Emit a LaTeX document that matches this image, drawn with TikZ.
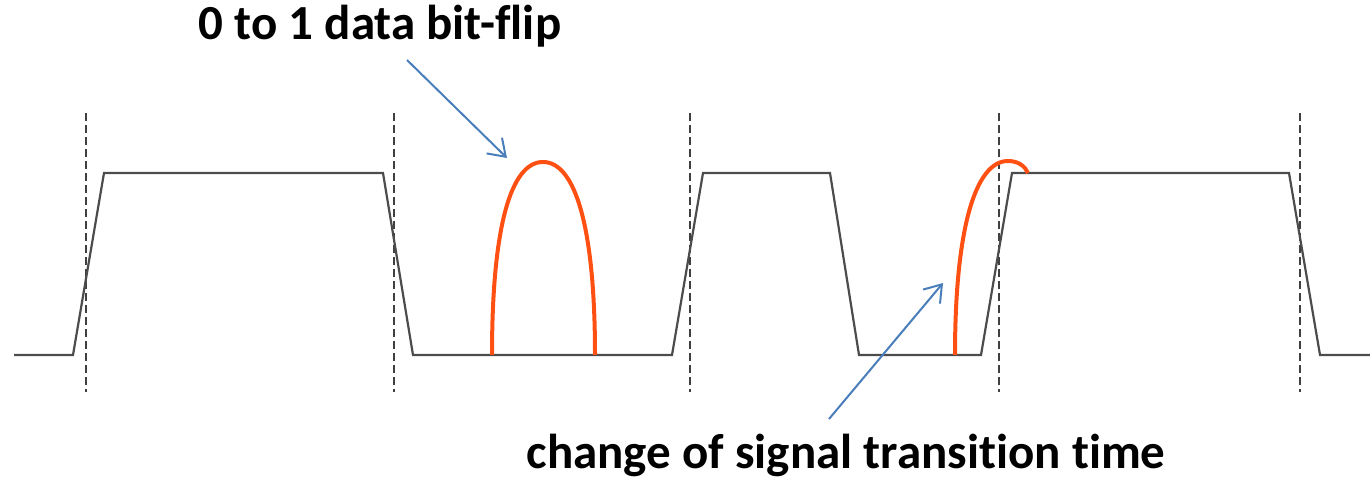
\documentclass[tikz,border=0pt]{standalone}
\usepackage{fontspec}
\setmainfont{Carlito}[Ligatures=NoCommon]
\usetikzlibrary{arrows.meta}

\definecolor{glitchred}{RGB}{255,80,20}
\definecolor{callout}{RGB}{74,126,187}

\begin{document}
\begin{tikzpicture}[
  x=0.5pt, y=-0.5pt,
  wave/.style={draw=black!70, line width=1.1pt, line join=miter},
  clk/.style={draw=black!75, line width=1.1pt, dash pattern=on 4pt off 2pt},
  glitch/.style={draw=glitchred, line width=2pt},
  lbl/.style={font=\fontsize{24.5}{29}\selectfont\bfseries, inner sep=0pt, anchor=base},
  ar/.style={-{Straight Barb[length=8pt,width=11pt]}, draw=callout, line width=1pt}
]
\useasboundingbox (0,0) rectangle (1370,480);

% clock edges
\foreach \x in {86,394,690,999,1300}
  \draw[clk] (\x,113) -- (\x,392);

% signal
\draw[wave] (14,355) -- (73,355) -- (104,173) -- (383,173) -- (413,355)
  -- (672,355) -- (703,173) -- (830,173) -- (859,355)
  -- (981,355) -- (1012,173) -- (1289,173) -- (1320,355) -- (1370,355);

% faults
\draw[glitch] (492,355) .. controls (492,230) and (510,162) .. (543,162)
  .. controls (576,162) and (595,230) .. (595,355);
\draw[glitch] (955,355) .. controls (955,230) and (975,161) .. (1008,161)
  .. controls (1018,161) and (1025,166) .. (1028,173);

% labels
\node[lbl] (flip) at (380,40) {0 to 1 data bit-flip};
\node[lbl] (shift) at (846,468) {change of signal transition time};

\coordinate (flipTail) at (407,60);
\coordinate (flipHead) at (507,158);
\coordinate (shiftTail) at (829,419);
\coordinate (shiftHead) at (943,283);
\draw[ar] (flipTail) -- (flipHead);
\draw[ar] (shiftTail) -- (shiftHead);
\end{tikzpicture}
\end{document}
